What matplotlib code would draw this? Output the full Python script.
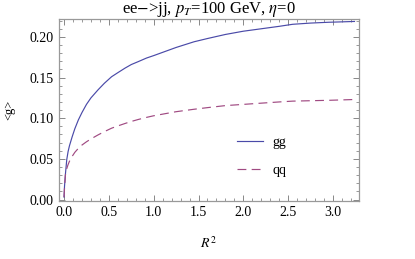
import matplotlib.pyplot as plt
from matplotlib.ticker import MultipleLocator, FormatStrFormatter

# values
r2 = [0.0, 0.005, 0.015, 0.03, 0.045, 0.06, 0.09, 0.12, 0.16, 0.2, 0.25, 0.3, 0.38,
      0.45, 0.53, 0.6, 0.68, 0.75, 0.83, 0.92, 1.0, 1.1, 1.25, 1.45, 1.6, 1.8, 2.0,
      2.2, 2.4, 2.55, 2.75, 2.95, 3.1, 3.24]
gg = [0.003, 0.016, 0.031, 0.049, 0.059, 0.066, 0.077, 0.087, 0.098, 0.107, 0.117,
      0.125, 0.135, 0.143, 0.151, 0.156, 0.1616, 0.166, 0.1697, 0.174, 0.177, 0.181,
      0.187, 0.194, 0.198, 0.203, 0.207, 0.210, 0.213, 0.2155, 0.217, 0.218, 0.2185,
      0.219]
qq = [0.003, 0.014, 0.030, 0.038, 0.043, 0.047, 0.053, 0.058, 0.063, 0.067, 0.071,
      0.0745, 0.0795, 0.0835, 0.0877, 0.0905, 0.0935, 0.096, 0.0985, 0.101, 0.103,
      0.105, 0.108, 0.111, 0.113, 0.1155, 0.117, 0.1185, 0.120, 0.121, 0.1215, 0.122,
      0.1225, 0.123]

plt.rcParams['font.family'] = ['Liberation Serif', 'DejaVu Serif']
plt.rcParams['mathtext.fontset'] = 'stix'

fig = plt.figure(figsize=(4.15, 2.59), dpi=100)
ax = fig.add_axes([0.1414, 0.225, 0.7236, 0.7016])

ax.plot(r2, gg, color='#4a4aa8', lw=0.85, label='gg')
ax.plot(r2, qq, color='#a04a82', lw=0.85, dashes=(7.5, 4.5), label='qq')

ax.set_xlim(-0.06, 3.29)
ax.set_ylim(-0.0015, 0.222)
ax.xaxis.set_major_locator(MultipleLocator(0.5))
ax.xaxis.set_minor_locator(MultipleLocator(0.1))
ax.yaxis.set_major_locator(MultipleLocator(0.05))
ax.yaxis.set_minor_locator(MultipleLocator(0.01))
ax.xaxis.set_major_formatter(FormatStrFormatter('%.1f'))
ax.yaxis.set_major_formatter(FormatStrFormatter('%.2f'))
ax.tick_params(which='both', direction='in', top=True, right=True,
               color='#888888', labelsize=10)
ax.tick_params(which='major', length=4, width=0.7)
ax.tick_params(which='minor', length=2, width=0.6)
for s in ax.spines.values():
    s.set_color('#999999')
    s.set_linewidth(0.9)

ax.set_title(r'ee$-$>jj, $p_T$=100 GeV, $\eta$=0', fontsize=12, pad=2)
ax.set_xlabel(r'$R^2$', fontsize=10, labelpad=12)
ax.set_ylabel('<g>', fontsize=9, labelpad=10)

ax.legend(loc='center left', bbox_to_anchor=(0.594, 0.243), frameon=False,
          fontsize=10, handlelength=1.9, labelspacing=1.1, handletextpad=0.65,
          borderpad=0, borderaxespad=0)

plt.savefig('out.png', dpi=100)
